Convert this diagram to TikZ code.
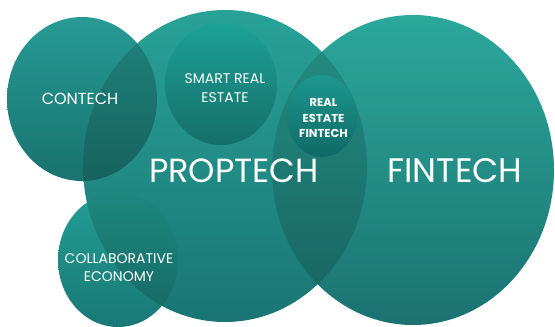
\documentclass[tikz,border=0pt]{standalone}
\usepackage{fontspec}
\setmainfont{Poppins}
\begin{document}
\begin{tikzpicture}[x=1pt,y=-1pt,
  lbl/.style={text=white,align=center,inner sep=0pt},
  ovl/.style={fill=black,opacity=0.14}]
\definecolor{propT}{RGB}{40,162,151}\definecolor{propB}{RGB}{26,117,116}
\definecolor{finT}{RGB}{43,168,155}\definecolor{finB}{RGB}{27,114,113}
\definecolor{conT}{RGB}{38,155,148}\definecolor{conB}{RGB}{25,114,111}
\definecolor{colT}{RGB}{35,158,148}\definecolor{colB}{RGB}{25,120,117}
\definecolor{smT}{RGB}{28,162,150}\definecolor{smB}{RGB}{22,110,106}
\definecolor{refT}{RGB}{28,152,142}\definecolor{refB}{RGB}{15,105,102}
\useasboundingbox (0,0) rectangle (555,327);
\fill[white] (0,0) rectangle (555,327);
\def\prop{(225,166) ellipse [x radius=142pt,y radius=156pt]}
\def\fin{(413,170) ellipse [x radius=141pt,y radius=155pt]}
\def\con{(82,99) ellipse [x radius=75pt,y radius=82pt]}
\def\col{(118,260) ellipse [x radius=60pt,y radius=67pt]}
\def\sm{(221,84) ellipse [x radius=56pt,y radius=61pt]}
\def\rf{(322,116) ellipse [x radius=35pt,y radius=41pt]}
% main circles
\shade[top color=propT,bottom color=propB] \prop;
\shade[top color=finT,bottom color=finB] \fin;
\shade[top color=conT,bottom color=conB] \con;
\shade[top color=colT,bottom color=colB] \col;
% overlaps
\begin{scope}\clip \prop; \fill[ovl] \fin; \fill[ovl] \con; \fill[ovl] \col; \end{scope}
% inner circles
\shade[top color=smT,bottom color=smB] \sm;
\shade[top color=refT,bottom color=refB] \rf;
% labels
\node[lbl,font=\fontsize{33.5}{36}\selectfont] (tprop) at (234,170.5) {PROPTECH};
\node[lbl,font=\fontsize{34}{36}\selectfont] (tfin) at (455,170.5) {FINTECH};
\node[lbl,font=\fontsize{16}{18}\selectfont] (tcon) at (80,99) {CONTECH};
\node[lbl,font=\fontsize{14}{18.5}\selectfont] (tsm) at (225,88) {SMART REAL\\ESTATE};
\node[lbl,font=\bfseries\fontsize{11.5}{15.5}\selectfont] (trf) at (323.5,118) {REAL\\ESTATE\\FINTECH};
\node[lbl,font=\fontsize{14}{18}\selectfont] (tcol) at (119,268) {COLLABORATIVE\\ECONOMY};
\end{tikzpicture}
\end{document}
